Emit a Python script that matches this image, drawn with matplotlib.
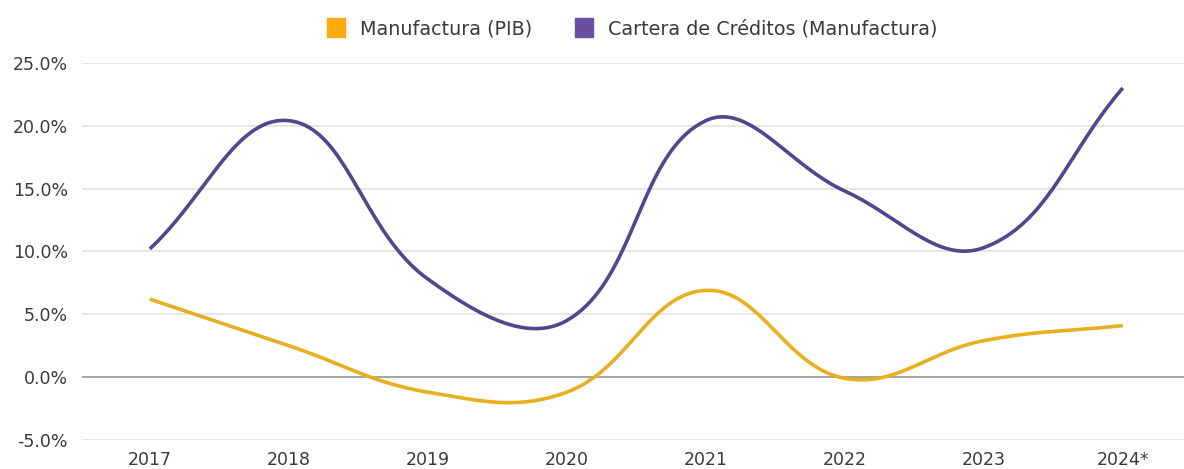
import numpy as np
import matplotlib
matplotlib.use("Agg")
import matplotlib.pyplot as plt
from matplotlib.patches import Patch
from matplotlib.ticker import FuncFormatter

# crecimiento anual (%)
anios = ["2017", "2018", "2019", "2020", "2021", "2022", "2023", "2024*"]
pib_manufactura = [6.2, 2.5, -1.2, -1.2, 6.9, -0.1, 2.9, 4.1]
cartera_manufactura = [10.2, 20.4, 7.8, 4.5, 20.4, 14.8, 10.3, 23.0]

color_pib = "#E8B021"
color_cartera = "#51478A"
color_pib_ley = "#FFA90A"
color_cartera_ley = "#6A4F9E"


def curva_suave(x, y, tension=0.4, sx=139.0, sy=12.6, n=40):
    # spline tipo bezier con tension (calculada en escala de pixeles)
    px = np.asarray(x, float) * sx
    py = np.asarray(y, float) * sy
    m = len(px)
    c_prev = np.zeros((m, 2))
    c_next = np.zeros((m, 2))
    for i in range(m):
        p = np.array([px[i], py[i]])
        a = np.array([px[max(i - 1, 0)], py[max(i - 1, 0)]])
        b = np.array([px[min(i + 1, m - 1)], py[min(i + 1, m - 1)]])
        d01 = np.hypot(*(p - a))
        d12 = np.hypot(*(b - p))
        tot = d01 + d12
        fa = tension * d01 / tot if tot else 0
        fb = tension * d12 / tot if tot else 0
        c_prev[i] = p - fa * (b - a)
        c_next[i] = p + fb * (b - a)
    xs, ys = [], []
    t = np.linspace(0, 1, n)[:, None]
    for i in range(m - 1):
        p0 = np.array([px[i], py[i]])
        p3 = np.array([px[i + 1], py[i + 1]])
        p1, p2 = c_next[i], c_prev[i + 1]
        seg = ((1 - t) ** 3) * p0 + 3 * ((1 - t) ** 2) * t * p1 + 3 * (1 - t) * t ** 2 * p2 + t ** 3 * p3
        xs.extend(seg[:, 0])
        ys.extend(seg[:, 1])
    return np.array(xs) / sx, np.array(ys) / sy


plt.rcParams["font.family"] = ["DejaVu Sans"]

fig = plt.figure(figsize=(11.84, 4.69), dpi=100)
ax = fig.add_axes([0.069, 0.062, 0.931, 0.804])

x = np.arange(len(anios))
xc, yc = curva_suave(x, cartera_manufactura)
xp, yp = curva_suave(x, pib_manufactura)
ax.plot(xc, yc, color=color_cartera, lw=2.6, solid_capstyle="butt", zorder=3)
ax.plot(xp, yp, color=color_pib, lw=2.6, solid_capstyle="butt", zorder=3)

ax.set_xlim(-0.49, 7.44)
ax.set_ylim(-5, 25)
ax.set_yticks(np.arange(-5, 26, 5))
ax.yaxis.set_major_formatter(FuncFormatter(lambda v, _: f"{v:.1f}%"))
ax.set_xticks(x)
ax.set_xticklabels(anios)

ax.grid(axis="y", color="#E2E2E2", lw=1.2)
ax.axhline(0, color="#9A9A9A", lw=1.2, zorder=2)
ax.set_axisbelow(True)
for s in ax.spines.values():
    s.set_visible(False)
ax.tick_params(axis="both", length=0, labelsize=12.5, labelcolor="#3a3a3a")
ax.tick_params(axis="y", pad=10)
ax.tick_params(axis="x", pad=8)

handles = [Patch(color=color_pib_ley, label="Manufactura (PIB)"),
           Patch(color=color_cartera_ley, label="Cartera de Créditos (Manufactura)")]
fig.legend(handles=handles, loc="center", bbox_to_anchor=(0.534, 0.94), ncol=2,
           frameon=False, fontsize=13.8, handlelength=0.95, handleheight=1.15,
           handletextpad=0.8, columnspacing=2.2, labelcolor="#3a3a3a")

fig.savefig("out.png", dpi=100, facecolor="white")
